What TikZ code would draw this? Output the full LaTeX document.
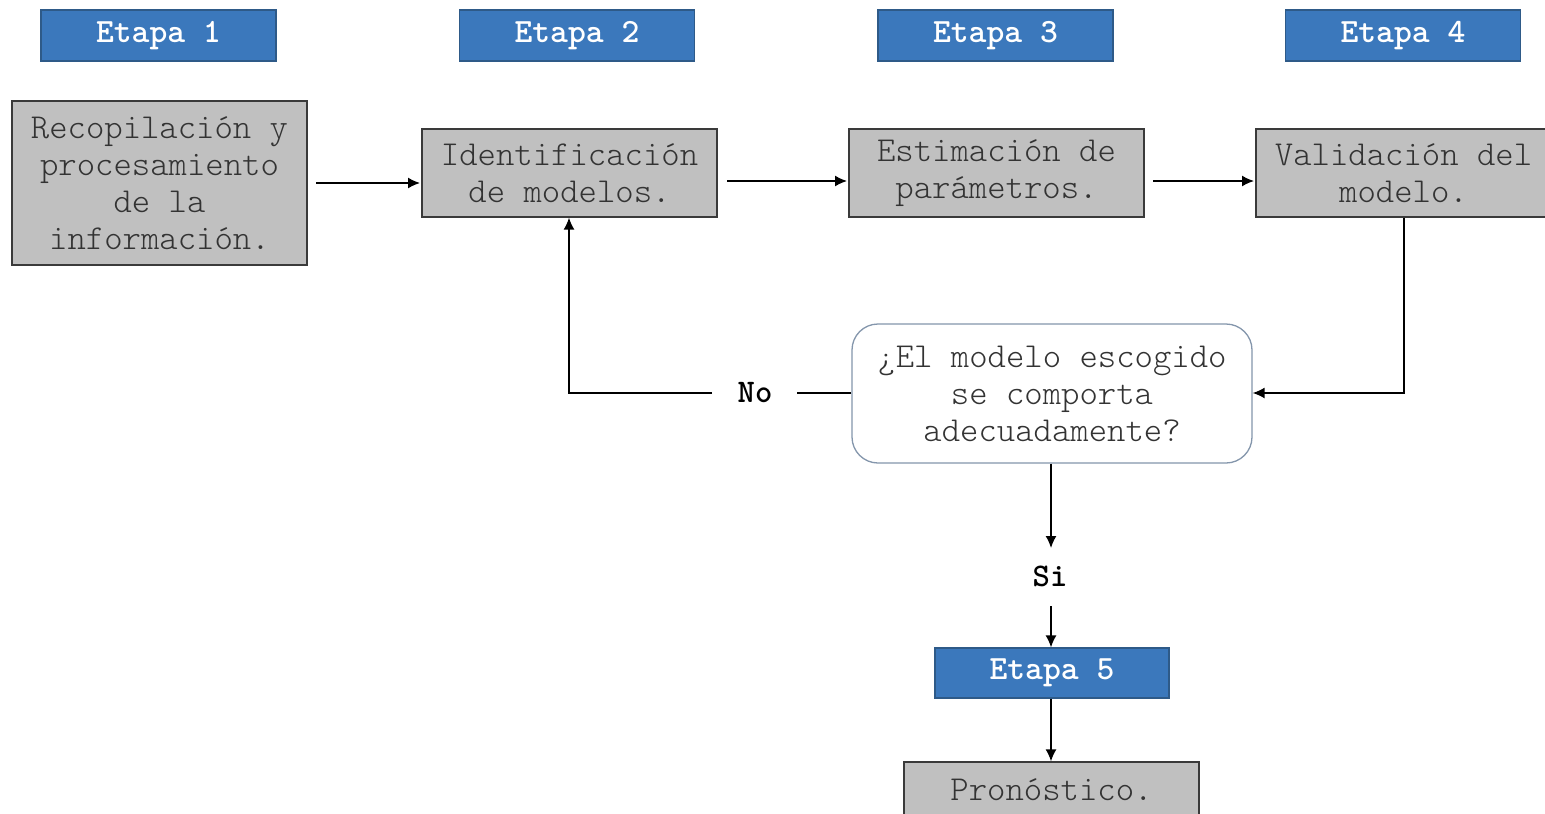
\documentclass[tikz,border=0pt]{standalone}
\usepackage{fontspec}
\setmainfont{lmmonolt10-regular.otf}[BoldFont=lmmonolt10-bold.otf]
\usetikzlibrary{arrows.meta}
\definecolor{etblue}{HTML}{3B78BC}
\definecolor{etborder}{HTML}{2E5A88}
\definecolor{boxgray}{HTML}{C0C0C0}
\definecolor{boxborder}{HTML}{3A3A3A}
\definecolor{txtgray}{HTML}{333333}
\definecolor{decborder}{HTML}{8496AC}
\tikzset{
  etapa/.style={draw=etborder, line width=1.2pt, fill=etblue, text=white,
    font=\fontsize{34}{37}\selectfont\bfseries, minimum width=235pt, minimum height=51pt,
    inner sep=0pt},
  proc/.style={draw=boxborder, line width=1.3pt, fill=boxgray, text=txtgray,
    font=\fontsize{35}{37}\selectfont, align=center, minimum width=295pt, inner sep=0pt},
  dec/.style={draw=decborder, line width=1.3pt, fill=white, rounded corners=26pt, text=txtgray,
    font=\fontsize{35}{37}\selectfont, align=center, minimum width=400pt, minimum height=139pt, inner sep=0pt},
  lbl/.style={font=\fontsize{33}{37}\selectfont\bfseries, text=black, inner sep=0pt},
  conn/.style={line width=1.5pt, draw=black},
  arr/.style={conn, -{Latex[length=12pt,width=11pt]}},
}
\begin{document}
\begin{tikzpicture}[x=1pt,y=-1pt]
\clip (0,0) rectangle (1545,814);
\fill[white] (0,0) rectangle (1545,814);
\node[etapa] (e1) at (158.5,35.5) {Etapa 1};
\node[etapa] (e2) at (577,35.5) {Etapa 2};
\node[etapa] (e3) at (995.5,35.5) {Etapa 3};
\node[etapa] (e4) at (1403,35.5) {Etapa 4};
\node[proc, minimum height=164pt] (b1) at (159.5,183) {Recopilación y\\procesamiento\\de la\\información.};
\node[proc, minimum height=88pt] (b2) at (569.5,173) {Identificación\\de modelos.};
\node[proc, minimum height=88pt] (b3) at (996.5,173) {\raisebox{-2pt}{Estimación de}\\\raisebox{-2pt}{parámetros.}};
\node[proc, minimum height=88pt] (b4) at (1403.5,173) {Validación del\\modelo.};
\node[dec] (d) at (1052,393.5) {¿El modelo escogido\\se comporta\\adecuadamente?};
\node[lbl] (no) at (755,393) {No};
\node[lbl] (si) at (1050,576) {Si};
\node[etapa, minimum width=234pt, minimum height=50pt] (e5) at (1052,673) {Etapa 5};
\node[proc, minimum height=56pt, text depth=0pt] (b5) at (1051.5,790) {Pronóstico.};
\coordinate (a1s) at (316,183);
\coordinate (a1e) at (420,183);
\draw[arr] (a1s) -- (a1e);
\coordinate (a2s) at (727,181);
\coordinate (a2e) at (847,181);
\draw[arr] (a2s) -- (a2e);
\coordinate (a3s) at (1153,181);
\coordinate (a3e) at (1254,181);
\draw[arr] (a3s) -- (a3e);
\coordinate (v1) at (1404,393);
\draw[arr] (b4.south -| v1) -- (v1) -- (d.east |- v1);
\coordinate (n1) at (797,393);
\coordinate (n2) at (712,393);
\coordinate (n3) at (569,393);
\draw[conn] (d.west |- n1) -- (n1);
\draw[arr] (n2) -- (n3) -- (b2.south -| n3);
\coordinate (s1) at (1051,548);
\draw[arr] (d.south -| s1) -- (s1);
\coordinate (s2) at (1051,606);
\draw[arr] (s2) -- (e5.north -| s2);
\draw[arr] (e5.south -| s2) -- (b5.north -| s2);
\end{tikzpicture}
\end{document}
